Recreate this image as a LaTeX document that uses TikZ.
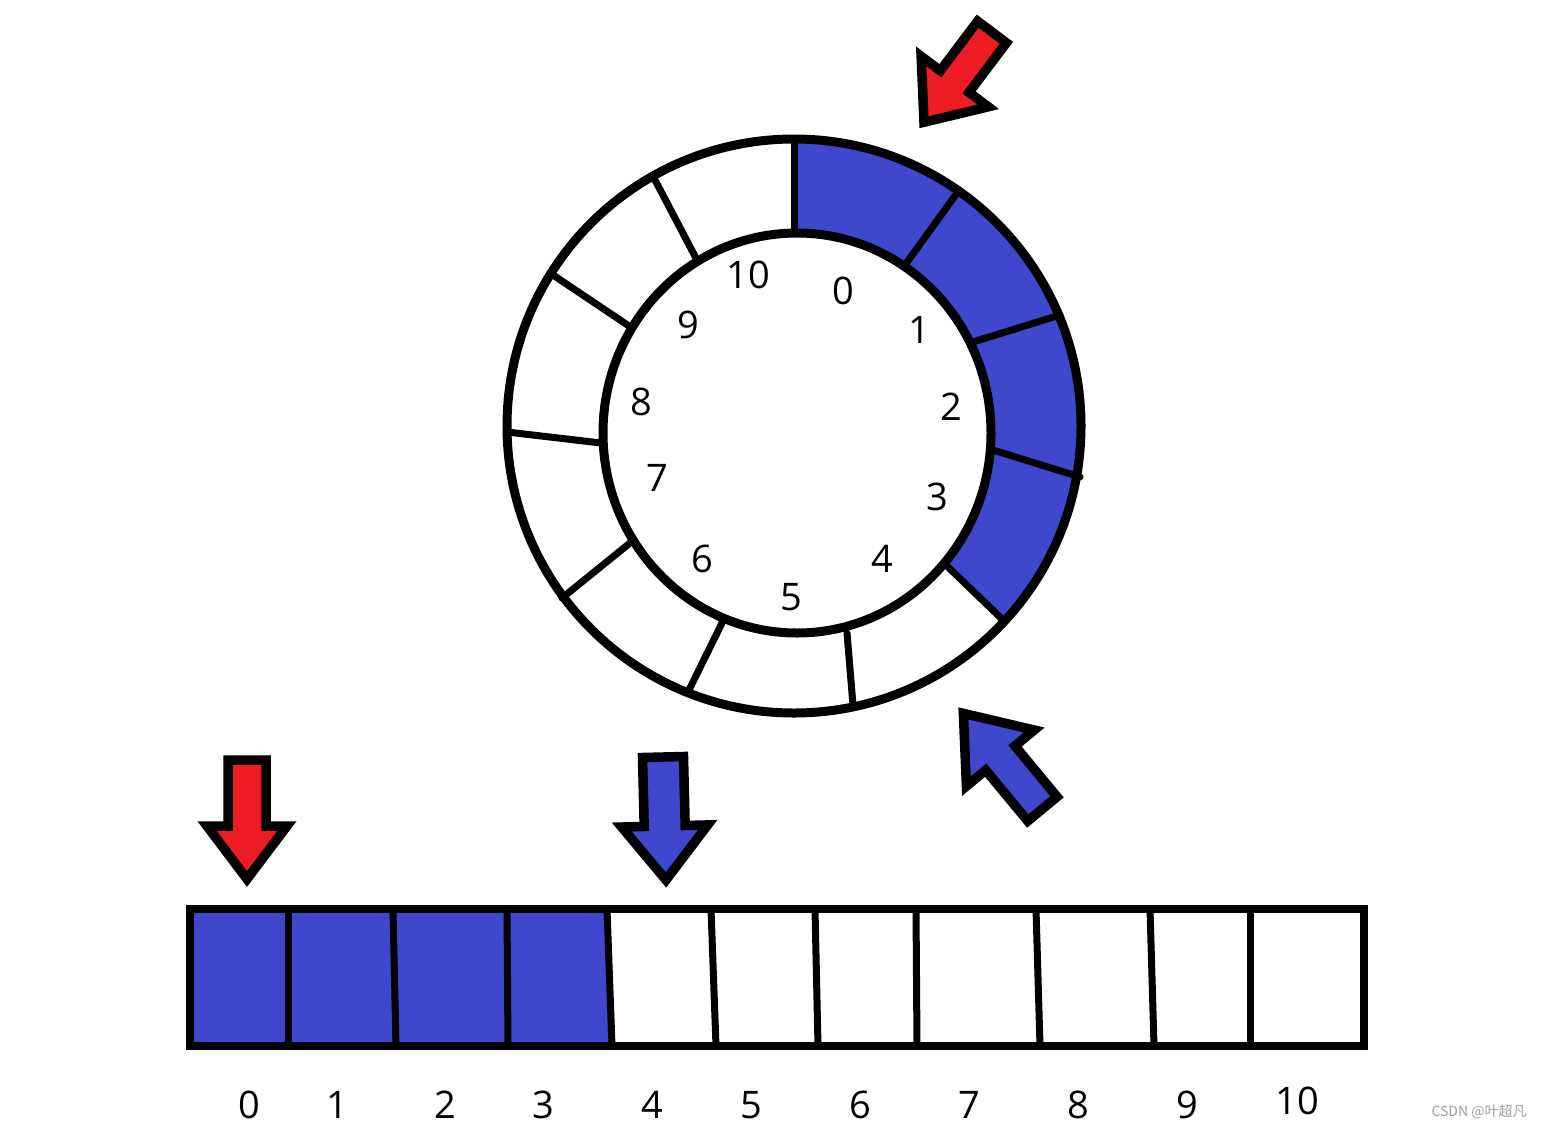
\documentclass[tikz,border=0pt]{standalone}
\usepackage{fontspec}
\usetikzlibrary{calc}
\setmainfont{Open Sans}
\newfontfamily\cjkfont{Noto Sans CJK SC}
\definecolor{qblue}{RGB}{63,72,204}
\definecolor{qred}{RGB}{237,28,36}
\definecolor{wmgray}{RGB}{160,160,160}
\tikzset{
  ringline/.style={line width=9pt, draw=black},
  divline/.style={line width=7pt, draw=black, line cap=round},
  barline/.style={line width=8pt, draw=black, line join=miter},
  fatarrow/.style={line width=9.5pt, draw=black, line join=miter, miter limit=4},
  lbl/.style={inner sep=0pt, font=\fontsize{38}{40}\selectfont},
  wmark/.style={inner sep=0pt, text=wmgray, font=\cjkfont\fontsize{14}{16}\selectfont}
}
\begin{document}
\begin{tikzpicture}[x=1pt,y=1pt,yscale=-1]
\useasboundingbox[fill=white] (0,0) rectangle (1544,1130);

% ---------- ring ----------
\fill[qblue] (794,426) ++(-90:287) arc[start angle=-90, end angle=42.9, radius=287]
  -- ($(797,433)+(40.7:194 and 200)$) arc[start angle=40.7, end angle=-90, x radius=194, y radius=200] -- cycle;
\draw[ringline] (794,426) circle[radius=287];
\draw[ringline] (797,433) ellipse[x radius=194, y radius=200];
% dividers (outer -> inner)
\draw[divline] (794,139) -- (794,233);
\draw[divline] (957,193) -- (905,265);
\draw[divline] (1060,315) -- (973,342);
\draw[divline] (1080,477) -- (993,450);
\draw[divline] (1003,620) -- (948,567);
\draw[divline] (853,705) -- (847,633);
\draw[divline] (688,692) -- (722,623);
\draw[divline] (562,598) -- (630,543);
\draw[divline] (507,432) -- (601,443);
\draw[divline] (550,273) -- (632,328);
\draw[divline] (655,180) -- (697,260);
% ring labels
\node[lbl] (r0)  at (843,291) {0};
\node[lbl] (r1)  at (919,330) {1};
\node[lbl] (r2)  at (951,407) {2};
\node[lbl] (r3)  at (937,497) {3};
\node[lbl] (r4)  at (882,559) {4};
\node[lbl] (r5)  at (791,597) {5};
\node[lbl] (r6)  at (702,559) {6};
\node[lbl] (r7)  at (657,478) {7};
\node[lbl] (r8)  at (641,402) {8};
\node[lbl] (r9)  at (688,325) {9};
\node[lbl] (r10) at (748,275) {10};

% ---------- bar ----------
\fill[qblue] (190,909) -- (607,909) -- (612,1046) -- (190,1046) -- cycle;
\draw[barline] (190,909) rectangle (1364,1046);
\foreach \a/\b in {288/288,393/396,507/508,607/612,711/716,815/818,916/917,1036/1040,1150/1154,1250/1250}
  \draw[divline] (\a,909) -- (\b,1046);
\node[lbl] (b0)  at (249,1105) {0};
\node[lbl] (b1)  at (337,1105) {1};
\node[lbl] (b2)  at (445,1105) {2};
\node[lbl] (b3)  at (543,1105) {3};
\node[lbl] (b4)  at (652,1105) {4};
\node[lbl] (b5)  at (751,1105) {5};
\node[lbl] (b6)  at (860,1105) {6};
\node[lbl] (b7)  at (969,1105) {7};
\node[lbl] (b8)  at (1078,1105) {8};
\node[lbl] (b9)  at (1187,1105) {9};
\node[lbl] (b10) at (1297,1101) {10};

% ---------- arrows (local: tail at origin, pointing +x) ----------
% red, top right
\begin{scope}[shift={(992,32)}, rotate=127]
  \draw[fatarrow, fill=qred] (0,-18) -- (62,-18) -- (62,-42) -- (113,0) -- (62,42) -- (62,18) -- (0,18) -- cycle;
\end{scope}
% blue, bottom right
\begin{scope}[shift={(1042.4,808.9)}, rotate=-129.6]
  \draw[fatarrow, fill=qblue] (0,-19) -- (66,-19) -- (66,-44) -- (124,0) -- (66,44) -- (66,19) -- (0,19) -- cycle;
\end{scope}
% red, down
\begin{scope}[shift={(247,760)}, rotate=90]
  \draw[fatarrow, fill=qred] (0,-19) -- (66,-19) -- (66,-40) -- (119,0) -- (66,40) -- (66,19) -- (0,19) -- cycle;
\end{scope}
% blue, down
\begin{scope}[shift={(663,757)}, rotate=88.6]
  \draw[fatarrow, fill=qblue] (0,-20.5) -- (69,-20.5) -- (69,-43) -- (123,0) -- (69,43) -- (69,20.5) -- (0,20.5) -- cycle;
\end{scope}

% watermark
\node[wmark] (wm) at (1479,1112) {CSDN @叶超凡};
\end{tikzpicture}
\end{document}
